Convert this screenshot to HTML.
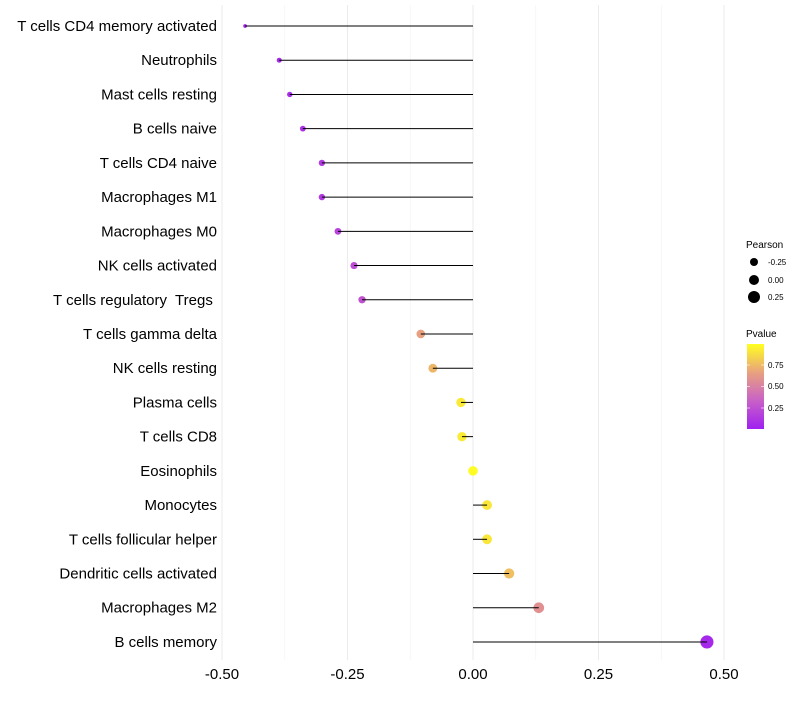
<!DOCTYPE html>
<html><head><meta charset="utf-8"><style>
body{margin:0;background:#fff;font-family:"Liberation Sans",sans-serif}
svg text{font-family:"Liberation Sans",sans-serif;white-space:pre}
</style></head><body>
<svg id="chart" width="800" height="700" xmlns="http://www.w3.org/2000/svg">
<defs><linearGradient id="pg" x1="0" y1="1" x2="0" y2="0">
<stop offset="0" stop-color="#a020f0"/><stop offset="0.33" stop-color="#c860c8"/><stop offset="0.66" stop-color="#e8a080"/><stop offset="1" stop-color="#ffff20"/></linearGradient></defs>
<g id="grid"></g>
<g id="points"></g>
<g id="marks"></g>
<g id="axes"></g>
<g>
<text x="746" y="248" font-size="10">Pearson</text>
<circle cx="754" cy="262" r="4" fill="#000"/>
<text x="768" y="265" font-size="8">-0.25</text>
<circle cx="754" cy="280" r="5" fill="#000"/>
<text x="768" y="283" font-size="8">0.00</text>
<circle cx="754" cy="297" r="6" fill="#000"/>
<text x="768" y="300" font-size="8">0.25</text>
</g>
<g>
<text x="746" y="337" font-size="10">Pvalue</text>
<rect x="747" y="344" width="17" height="85" fill="url(#pg)"/>
<line x1="747" y1="365" x2="750" y2="365" stroke="#fff" opacity="0.6"/><line x1="761" y1="365" x2="764" y2="365" stroke="#fff" opacity="0.6"/>
<line x1="747" y1="386.5" x2="750" y2="386.5" stroke="#fff" opacity="0.6"/><line x1="761" y1="386.5" x2="764" y2="386.5" stroke="#fff" opacity="0.6"/>
<line x1="747" y1="408" x2="750" y2="408" stroke="#fff" opacity="0.6"/><line x1="761" y1="408" x2="764" y2="408" stroke="#fff" opacity="0.6"/>
<text x="768" y="368" font-size="8">0.75</text>
<text x="768" y="389" font-size="8">0.50</text>
<text x="768" y="411" font-size="8">0.25</text>
</g>
</svg>
<script>
const categories=["T cells CD4 memory activated","Neutrophils","Mast cells resting","B cells naive","T cells CD4 naive","Macrophages M1","Macrophages M0","NK cells activated","T cells regulatory  Tregs ","T cells gamma delta","NK cells resting","Plasma cells","T cells CD8","Eosinophils","Monocytes","T cells follicular helper","Dendritic cells activated","Macrophages M2","B cells memory"];
const pearson=[-0.454,-0.386,-0.365,-0.339,-0.301,-0.301,-0.269,-0.237,-0.221,-0.104,-0.080,-0.024,-0.022,0.0,0.028,0.028,0.072,0.131,0.466];
const pvalues=[0.02,0.05,0.07,0.10,0.13,0.13,0.18,0.23,0.26,0.66,0.74,0.92,0.93,0.99,0.91,0.91,0.77,0.58,0.04];
const xTicks=[-0.5,-0.25,0,0.25,0.5];
const xTickLabels=["-0.50","-0.25","0.00","0.25","0.50"];
const NS="http://www.w3.org/2000/svg";
const x=v=>473+v*502;
const y=i=>26+i*34.22;
const rad=v=>Math.sqrt(Math.max(3,23+v*43));
function col(p){const st=[[0,[160,32,240]],[0.33,[200,96,200]],[0.66,[232,160,128]],[1,[255,255,32]]];
for(let k=1;k<st.length;k++){if(p<=st[k][0]){const a=st[k-1],b=st[k],t=(p-a[0])/(b[0]-a[0]);return "rgb("+a[1].map((c,j)=>Math.round(c+(b[1][j]-c)*t)).join(",")+")";}}return "rgb(255,255,32)";}
function mk(tag,attrs,parent){const e=document.createElementNS(NS,tag);for(const k in attrs)e.setAttribute(k,attrs[k]);parent.appendChild(e);return e;}
const grid=document.getElementById('grid'),marks=document.getElementById('marks'),axes=document.getElementById('axes'),pts=document.getElementById('points');
const minor=[-0.375,-0.125,0.125,0.375];
minor.forEach(v=>{const l=mk('line',{x1:x(v),x2:x(v),y1:5,y2:660,stroke:'#f2f2f2','stroke-width':0.6},grid);

});
xTicks.forEach((v,i)=>{const l=mk('line',{x1:x(v),x2:x(v),y1:5,y2:660,stroke:'#ebebeb','stroke-width':1},grid);


const t=mk('text',{x:x(v),y:679,'font-size':15,'text-anchor':'middle',fill:'#000'},axes);t.textContent=xTickLabels[i];

});
categories.forEach((c,i)=>{const yy=y(i);
const t=mk('text',{x:217,y:yy+5,'font-size':15,'text-anchor':'end',fill:'#000'},axes);t.textContent=c;


const p=mk('circle',{cx:x(pearson[i]),cy:yy,r:rad(pearson[i]),fill:col(pvalues[i])},pts);


const l=mk('line',{x1:x(0),x2:x(pearson[i]),y1:yy,y2:yy,stroke:'#000','stroke-width':1},marks);

});
</script>
</body></html>
